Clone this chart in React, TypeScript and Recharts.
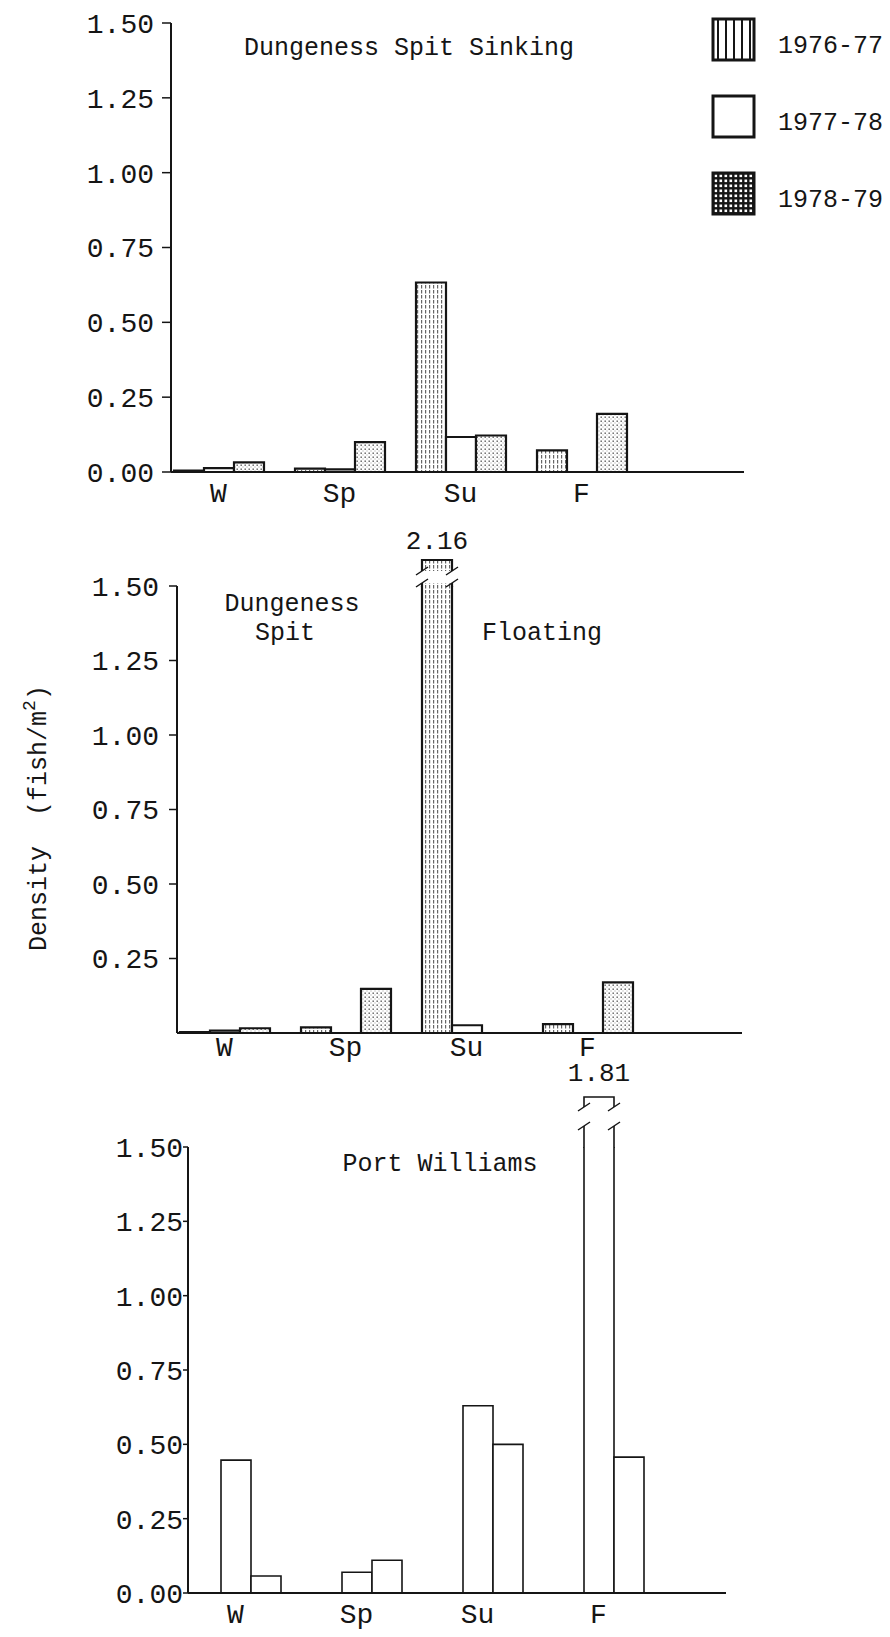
import React from "react";
import { BarChart, Bar, XAxis, YAxis, LabelList } from "recharts";

const seasons = ["W", "Sp", "Su", "F"];
const years = ["1976-77", "1977-78", "1978-79"];
const seriesKeys = ["y7677", "y7778", "y7879"];

// Dungeness Spit, sinking
const sinking7677 = [0.005, 0.011, 0.633, 0.072];
const sinking7778 = [0.013, 0.009, 0.117, null];
const sinking7879 = [0.032, 0.1, 0.122, 0.194];

// Dungeness Spit, floating
const floating7677 = [0.003, 0.019, 2.16, 0.03];
const floating7778 = [0.008, null, 0.026, null];
const floating7879 = [0.016, 0.148, null, 0.17];

// Port Williams
const port7677 = [null, null, null, null];
const port7778 = [0.447, 0.07, 0.63, 1.81];
const port7879 = [0.057, 0.11, 0.5, 0.457];

const ticksWithZero = [0, 0.25, 0.5, 0.75, 1, 1.25, 1.5];
const ticksNoZero = [0.25, 0.5, 0.75, 1, 1.25, 1.5];
const Y_MAX = 1.5;

const INK = "#151515";
const MONO = "'Liberation Mono', 'DejaVu Sans Mono', monospace";

type Brk = { ext: number; capTop: number; capBottom: number; textOff: number };

type PanelSpec = {
  top: number;
  plotTop: number;
  plotHeight: number;
  axisX: number;
  axisRight: number;
  series: (number | null)[][];
  fills: string[];
  strokeW: number;
  ticks: number[];
  tickSize: number;
  tickGap: number;
  labelGap: number;
  brk: Brk;
};

const BAND = 121;
const BAR_W = 30;
const Y_AXIS_W = 90;
const X_AXIS_H = 40;

// bar outline: open at the top when the value runs past the axis
const barBox = (key: string, ext: number) => (p: any) => {
  const v = p.payload ? p.payload[key] : null;
  if (v == null) return <g />;
  const x = p.x;
  const w = p.width;
  const base = p.y + p.height;
  let top = p.y;
  const broken = v > Y_MAX;
  if (broken) top = base - (p.height * Y_MAX) / v - ext;
  const outline = broken
    ? `M${x},${base}V${top}M${x + w},${top}V${base}`
    : `M${x},${base}V${top}H${x + w}V${base}`;
  return (
    <g>
      <rect x={x} y={top} width={w} height={base - top} fill={p.fill} />
      <path d={outline} stroke={INK} strokeWidth={p.strokeWidth} fill="none" />
    </g>
  );
};

// axis-break marks, cap and value text above an off-scale bar
const breakMark = (brk: Brk, fill: string, sw: number) => (p: any) => {
  const vb = p.viewBox || p;
  const v = Number(p.value);
  if (!isFinite(v) || v <= Y_MAX) return null;
  const x = vb.x;
  const w = vb.width;
  const base = vb.y + vb.height;
  const y15 = base - (vb.height * Y_MAX) / v;
  const yb = y15 - brk.ext;
  const yc = y15 - brk.capTop;
  const yc2 = y15 - brk.capBottom;
  const slash = (cx: number, cy: number) => `M${cx - 6},${cy + 4}L${cx + 6},${cy - 4}`;
  return (
    <g>
      <rect x={x} y={yb} width={w} height={y15 - yb + 1} fill={fill} />
      <path d={`M${x},${y15 + 1}V${yb}M${x + w},${yb}V${y15 + 1}`} stroke={INK} strokeWidth={sw} fill="none" />
      <path d={slash(x, yb) + slash(x + w, yb)} stroke={INK} strokeWidth={1.5} fill="none" />
      <rect x={x} y={yc} width={w} height={yc2 - yc} fill={fill} />
      <path d={`M${x},${yc2}V${yc}H${x + w}V${yc2}`} stroke={INK} strokeWidth={sw} fill="none" />
      <path d={slash(x, yc2) + slash(x + w, yc2)} stroke={INK} strokeWidth={1.5} fill="none" />
      <text x={x + w / 2} y={y15 - brk.textOff} textAnchor="middle" fontFamily={MONO} fontSize={26} fill={INK}>
        {v.toFixed(2)}
      </text>
    </g>
  );
};

function Panel({ spec }: { spec: PanelSpec }) {
  const rows = seasons.map((s, i) => ({
    season: s,
    y7677: spec.series[0][i],
    y7778: spec.series[1][i],
    y7879: spec.series[2][i],
  }));
  const marginTop = spec.plotTop - spec.top;
  const height = marginTop + spec.plotHeight + X_AXIS_H;
  const firstBar = spec.axisX + 2.5;
  const padLeft = firstBar - (BAND - 3 * BAR_W) / 2 - spec.axisX;
  const padRight = spec.axisRight - (spec.axisX + padLeft + 4 * BAND);

  return (
    <div style={{ position: "absolute", left: 0, top: spec.top }}>
      <BarChart
        width={890}
        height={height}
        data={rows}
        margin={{ top: marginTop, right: 890 - spec.axisRight, left: spec.axisX - Y_AXIS_W, bottom: 0 }}
        barGap={0}
        barSize={BAR_W}
      >
        <XAxis
          dataKey="season"
          height={X_AXIS_H}
          padding={{ left: padLeft, right: padRight }}
          tickLine={false}
          tickSize={0}
          tickMargin={spec.labelGap}
          axisLine={{ stroke: INK, strokeWidth: 2 }}
          tick={{ fontSize: 28, fill: INK, fontFamily: MONO }}
        />
        <YAxis
          type="number"
          domain={[0, Y_MAX]}
          allowDataOverflow
          ticks={spec.ticks}
          interval={0}
          width={Y_AXIS_W}
          tickSize={spec.tickSize}
          tickMargin={spec.tickGap}
          tickFormatter={(v: number) => v.toFixed(2)}
          axisLine={{ stroke: INK, strokeWidth: 2 }}
          tickLine={{ stroke: INK, strokeWidth: 1.5 }}
          tick={{ fontSize: 28, fill: INK, fontFamily: MONO }}
        />
        {seriesKeys.map((k, i) => (
          <Bar
            key={k}
            dataKey={k}
            name={years[i]}
            fill={spec.fills[i]}
            strokeWidth={spec.strokeW}
            shape={barBox(k, spec.brk.ext)}
            isAnimationActive={false}
          >
            <LabelList dataKey={k} content={breakMark(spec.brk, spec.fills[i], spec.strokeW)} />
          </Bar>
        ))}
      </BarChart>
    </div>
  );
}

const panels: PanelSpec[] = [
  {
    top: 0,
    plotTop: 23,
    plotHeight: 449,
    axisX: 171,
    axisRight: 744,
    series: [sinking7677, sinking7778, sinking7879],
    fills: ["url(#hatchBar)", "#fff", "url(#dotBar)"],
    strokeW: 2.2,
    ticks: ticksWithZero,
    tickSize: 9,
    tickGap: 8,
    labelGap: 10,
    brk: { ext: 3, capTop: 26, capBottom: 15, textOff: 37 },
  },
  {
    top: 520,
    plotTop: 586,
    plotHeight: 447,
    axisX: 177,
    axisRight: 742,
    series: [floating7677, floating7778, floating7879],
    fills: ["url(#hatchBar)", "#fff", "url(#dotBar)"],
    strokeW: 2.2,
    ticks: ticksNoZero,
    tickSize: 8,
    tickGap: 10,
    labelGap: 3,
    brk: { ext: 3, capTop: 26, capBottom: 15, textOff: 37 },
  },
  {
    top: 1030,
    plotTop: 1147,
    plotHeight: 446,
    axisX: 188,
    axisRight: 726,
    series: [port7677, port7778, port7879],
    fills: ["#fff", "#fff", "#fff"],
    strokeW: 1.6,
    ticks: ticksWithZero,
    tickSize: 5,
    tickGap: 0,
    labelGap: 10,
    brk: { ext: 21, capTop: 50, capBottom: 40, textOff: 66 },
  },
];

const legendY = [19, 96, 173];
const legendFills = ["url(#hatchKey)", "#fff", "url(#dotKey)"];

export default function App() {
  return (
    <div style={{ position: "absolute", left: 0, top: 0, width: 890, height: 1637, background: "#fff" }}>
      <svg width={890} height={1637} style={{ position: "absolute", left: 0, top: 0 }}>
        <defs>
          <pattern id="hatchBar" width="4" height="5" patternUnits="userSpaceOnUse">
            <rect width="4" height="5" fill="#fff" />
            <rect x="1" y="0" width="1.2" height="3.5" fill="#666" />
          </pattern>
          <pattern id="dotBar" width="4" height="4" patternUnits="userSpaceOnUse">
            <rect width="4" height="4" fill="#fff" />
            <rect x="0.5" y="0.5" width="1.4" height="1.4" fill="#555" />
            <rect x="2.5" y="2.5" width="1" height="1" fill="#999" />
          </pattern>
          <pattern id="hatchKey" x="713" width="8" height="10" patternUnits="userSpaceOnUse">
            <rect width="8" height="10" fill="#fff" />
            <rect x="4" width="2" height="10" fill={INK} />
          </pattern>
          <pattern id="dotKey" x="713" y="173" width="5" height="5" patternUnits="userSpaceOnUse">
            <rect width="5" height="5" fill={INK} />
            <rect x="1.5" y="1.5" width="2.6" height="2.6" fill="#fff" />
          </pattern>
        </defs>

        <g fontFamily={MONO} fill={INK} fontSize={25}>
          {years.map((y, i) => (
            <g key={y}>
              <rect
                x={713}
                y={legendY[i]}
                width={41}
                height={41}
                fill={legendFills[i]}
                stroke={INK}
                strokeWidth={3}
              />
              <text x={778} y={legendY[i] + 34}>
                {y}
              </text>
            </g>
          ))}

          <text x={409} y={55} textAnchor="middle">Dungeness Spit Sinking</text>
          <text x={292} y={611} textAnchor="middle">Dungeness</text>
          <text x={285} y={640} textAnchor="middle">Spit</text>
          <text x={542} y={640} textAnchor="middle">Floating</text>
          <text x={440} y={1171} textAnchor="middle">Port Williams</text>

          <text transform="translate(46 818) rotate(-90)" textAnchor="middle" style={{ whiteSpace: "pre" }}>
            {"Density  (fish/m"}
            <tspan dy={-11} fontSize={18}>2</tspan>
            <tspan dy={11}>)</tspan>
          </text>
        </g>
      </svg>
      {panels.map((p, i) => (
        <Panel key={i} spec={p} />
      ))}
    </div>
  );
}
